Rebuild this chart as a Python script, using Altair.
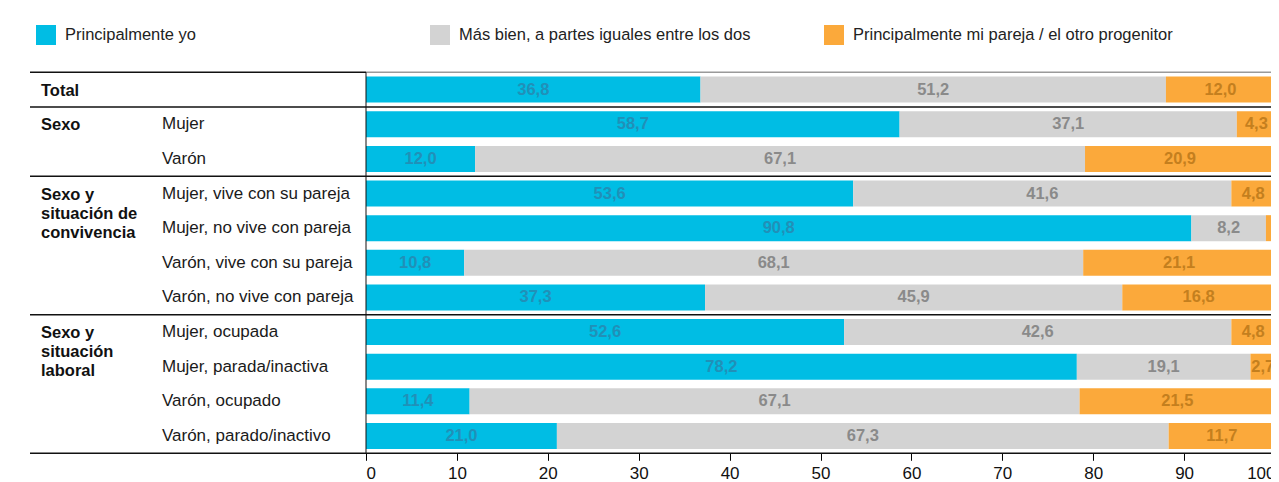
import altair as alt
import pandas as pd

# ---------------- data ----------------
categories = [
    "Principalmente yo",
    "Más bien, a partes iguales entre los dos",
    "Principalmente mi pareja / el otro progenitor",
]
row_labels = [
    "",
    "Mujer",
    "Varón",
    "Mujer, vive con su pareja",
    "Mujer, no vive con pareja",
    "Varón, vive con su pareja",
    "Varón, no vive con pareja",
    "Mujer, ocupada",
    "Mujer, parada/inactiva",
    "Varón, ocupado",
    "Varón, parado/inactivo",
]
groups = ["Total", "Sexo", "Sexo y\nsituación de\nconvivencia", "Sexo y\nsituación\nlaboral"]
group_sizes = [1, 2, 4, 4]

yo = [36.8, 58.7, 12.0, 53.6, 90.8, 10.8, 37.3, 52.6, 78.2, 11.4, 21.0]
iguales = [51.2, 37.1, 67.1, 41.6, 8.2, 68.1, 45.9, 42.6, 19.1, 67.1, 67.3]
pareja = [12.0, 4.3, 20.9, 4.8, 1.0, 21.1, 16.8, 4.8, 2.7, 21.5, 11.7]
x_ticks = [0, 10, 20, 30, 40, 50, 60, 70, 80, 90, 100]

# ---------------- styles ----------------
bar_colors = ["#00BDE4", "#D3D3D3", "#FBA93B"]
label_colors = ["#2090B8", "#8A8A8A", "#C47F1E"]
FONT = "Liberation Sans"
W, H = 1241, 445.3
X0_PX, X100_PX = 336, 1245
Y_TOP, Y_BOT = 64.3, 445.3

# ---------------- tables ----------------
series = [yo, iguales, pareja]
recs = []
for i in range(len(row_labels)):
    start = 0.0
    for c, vals in zip(categories, series):
        v = vals[i]
        recs.append({"idx": i, "cat": c, "v": v, "x0": start, "x1": start + v})
        start += v
df = pd.DataFrame(recs)

rows_df = pd.DataFrame({"idx": list(range(len(row_labels))), "label": row_labels})
first = []
acc = 0
bounds = [-0.5]
for s in group_sizes:
    first.append(acc)
    acc += s
    bounds.append(acc - 0.5)
groups_df = pd.DataFrame({"idx": first, "label": groups})
sep_df = pd.DataFrame({"b": bounds[1:]})
top_df = pd.DataFrame({"b": [bounds[0]]})
vline_df = pd.DataFrame({"a": [bounds[0]], "b": [bounds[-1]]})

xscale = alt.Scale(domain=[0, 100], range=[X0_PX, X100_PX], nice=False, zero=False, padding=0)
yscale = alt.Scale(domain=[bounds[0], bounds[-1]], range=[Y_TOP, Y_BOT], nice=False, zero=False, padding=0)

xaxis = alt.Axis(
    values=x_ticks, domain=False, grid=False, tickSize=7, tickColor="#000",
    tickWidth=1, labelFontSize=17, labelColor="#111", labelFont=FONT,
    labelPadding=5, title=None, labelFlush=True,
)

legend = alt.Legend(
    orient="none", legendX=6, legendY=17, direction="horizontal", columns=3,
    gridAlign="all", columnPadding=44, symbolType="square", symbolSize=400,
    symbolStrokeWidth=0, labelFontSize=16.5, labelFont=FONT, labelColor="#222",
    labelOffset=9, labelLimit=0, title=None,
)

bars = alt.Chart(df).mark_bar(size=26).encode(
    x=alt.X("x0:Q", scale=xscale, axis=xaxis),
    x2="x1:Q",
    y=alt.Y("idx:Q", scale=yscale, axis=None),
    color=alt.Color("cat:N", scale=alt.Scale(domain=categories, range=bar_colors), legend=legend),
)

value_layers = []
for c, col in zip(categories, label_colors):
    value_layers.append(
        alt.Chart(df)
        .transform_filter((alt.datum.cat == c) & (alt.datum.v >= 2))
        .transform_calculate(
            mid="(datum.x0 + datum.x1) / 2",
            txt="replace(format(datum.v, '.1f'), '.', ',')",
        )
        .mark_text(font=FONT, fontSize=16.5, fontWeight="bold", color=col, baseline="middle", align="center")
        .encode(
            x=alt.X("mid:Q", scale=xscale),
            y=alt.Y("idx:Q", scale=yscale, axis=None),
            text="txt:N",
        )
    )

row_text = alt.Chart(rows_df).mark_text(
    font=FONT, fontSize=17, color="#1a1a1a", align="left", baseline="middle"
).encode(x=alt.value(132), y=alt.Y("idx:Q", scale=yscale, axis=None), text="label:N")

group_text = alt.Chart(groups_df).mark_text(
    font=FONT, fontSize=16.5, fontWeight="bold", color="#111", align="left",
    baseline="alphabetic", dy=6, lineBreak="\n", lineHeight=19,
).encode(x=alt.value(11), y=alt.Y("idx:Q", scale=yscale, axis=None), text="label:N")

seps = alt.Chart(sep_df).mark_rule(color="#111", strokeWidth=1.5).encode(
    x=alt.value(0), x2=alt.value(W), y=alt.Y("b:Q", scale=yscale, axis=None)
)
top_left = alt.Chart(top_df).mark_rule(color="#111", strokeWidth=1.5).encode(
    x=alt.value(0), x2=alt.value(X0_PX), y=alt.Y("b:Q", scale=yscale, axis=None)
)
top_right = alt.Chart(top_df).mark_rule(color="#9a9a9a", strokeWidth=1.5).encode(
    x=alt.value(X0_PX), x2=alt.value(W), y=alt.Y("b:Q", scale=yscale, axis=None)
)
vline = alt.Chart(vline_df).mark_rule(color="#111", strokeWidth=1).encode(
    x=alt.value(X0_PX), y=alt.Y("a:Q", scale=yscale, axis=None), y2="b:Q"
)

chart = alt.layer(
    bars, *value_layers, row_text, group_text, seps, top_left, top_right, vline
).properties(
    width=W, height=H,
    background="white",
    autosize=alt.AutoSizeParams(type="none"),
    padding={"left": 22, "top": 0, "right": 0, "bottom": 30},
).configure_view(stroke=None)

chart.save("out.html", embed_options={"renderer": "svg", "actions": False})
